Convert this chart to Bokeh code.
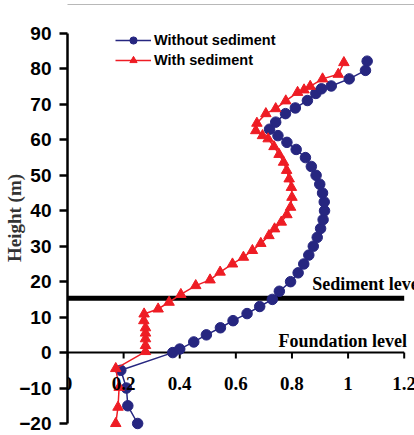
from bokeh.plotting import figure
from bokeh.models import (Range1d, FixedTicker, Legend, LegendItem,
                          BoxAnnotation, ColumnDataSource, LabelSet)
from bokeh.core.properties import value
from bokeh.embed import file_html
from bokeh.resources import INLINE

# Height profiles (m) and the normalised response at each height
height_without = [-20, -15, -10, -5, 0, 1, 3, 5, 7, 9, 11, 13, 15, 17.3,
                  20.0, 22.5, 25.0, 27.5, 30.0, 32.5, 35.0, 37.5, 40.0, 42.5,
                  45.0, 47.5, 50.0, 52.5, 55.0, 57.3, 59.3, 61.2, 63.0,
                  65.0, 67.4, 69.0, 71.1, 73.1, 74.4, 75.2, 77.2, 79.6, 82.2]
value_without = [0.25, 0.215, 0.21, 0.19, 0.375, 0.40, 0.45, 0.495, 0.545,
                 0.59, 0.64, 0.685, 0.73, 0.755,
                 0.795, 0.822, 0.842, 0.86, 0.876, 0.89, 0.902, 0.911, 0.916,
                 0.915, 0.909, 0.899, 0.886, 0.869, 0.848, 0.815, 0.782,
                 0.75, 0.72,
                 0.742, 0.777, 0.812, 0.855, 0.885, 0.905, 0.94, 1.004,
                 1.062, 1.068]

height_with = [-20, -15.4, -9.8, -4.5, 0.3, 2.0, 3.9, 5.5, 7.0, 9.0, 10.9,
               12.3, 14.2, 16.4, 18.9, 20.5, 22.7, 25.0, 26.9, 28.8, 30.8,
               33.0, 34.9, 36.8, 38.9, 41.0, 43.8, 46.6, 49.0, 51.4, 53.7,
               55.9, 58.1, 60.3, 61.2, 62.6, 64.7, 67.4, 68.8, 71.0, 73.4,
               74.1, 75.1, 77.2, 78.5, 81.8]
value_with = [0.172, 0.18, 0.184, 0.172, 0.278, 0.278, 0.278, 0.278, 0.278,
              0.272, 0.273, 0.323, 0.362, 0.404, 0.457, 0.508, 0.544, 0.588,
              0.627, 0.659, 0.689, 0.718, 0.738, 0.762, 0.782, 0.795, 0.80,
              0.798, 0.79, 0.781, 0.77, 0.754, 0.736, 0.715, 0.695, 0.671,
              0.675, 0.707, 0.742, 0.778, 0.82, 0.843, 0.865, 0.909, 0.965,
              0.985]

x_ticks = [0, 0.2, 0.4, 0.6, 0.8, 1.0, 1.2]
x_tick_labels = ["0", "0.2", "0.4", "0.6", "0.8", "1", "1.2"]
y_ticks = [-20, -10, 0, 10, 20, 30, 40, 50, 60, 70, 80, 90]

sediment_level = 15.3
level_labels = ["Sediment level", "Foundation level"]
level_label_x = [0.872, 0.752]
level_label_y = [19.3, 3.4]

BLUE = "#262680"
RED = "#EE1C24"

p = figure(width=414, height=435, output_backend="svg", toolbar_location=None,
           title=None, x_axis_location=None,
           x_range=Range1d(0, 1.2367), y_range=Range1d(-23.385, 99.31),
           min_border_left=67, min_border_right=0, min_border_top=0,
           min_border_bottom=0)
p.outline_line_color = None
p.grid.visible = False
p.background_fill_color = "white"
p.border_fill_color = "white"

# thin rule along the top of the page
p.add_layout(BoxAnnotation(left=-0.3, right=1.3, bottom=98.05, top=98.3,
                           fill_color="#b8b8b8", fill_alpha=1,
                           line_color=None))

# vertical axis (height)
ya = p.yaxis[0]
ya.bounds = (-20, 90)
ya.ticker = FixedTicker(ticks=y_ticks)
ya.minor_tick_line_color = None
ya.major_tick_in = 0
ya.major_tick_out = 8
ya.major_tick_line_width = 2.5
ya.axis_line_width = 2.5
ya.major_label_standoff = 8
ya.major_label_text_font = "Liberation Sans"
ya.major_label_text_font_style = "bold"
ya.major_label_text_font_size = "19px"
ya.major_label_text_color = "black"
ya.axis_label = "Height (m)"
ya.axis_label_text_font = "Liberation Serif"
ya.axis_label_text_font_style = "bold"
ya.axis_label_text_font_size = "19px"
ya.axis_label_text_color = "#333333"
ya.axis_label_standoff = -9

# horizontal axis drawn along the foundation level (height 0)
p.line(x=[x_ticks[0], x_ticks[-1]], y=[0, 0], line_color="black",
       line_width=2)
p.ray(x=x_ticks, y=[0] * len(x_ticks), length=6, length_units="screen",
      angle=-1.5708, line_color="black", line_width=2)
tick_src = ColumnDataSource(dict(x=x_ticks, y=[0] * len(x_ticks),
                                 t=x_tick_labels))
p.add_layout(LabelSet(x="x", y="y", text="t", source=tick_src, y_offset=-31,
                      text_align="center", text_baseline="middle",
                      text_font="Liberation Sans", text_font_style="bold",
                      text_font_size="19px", text_color="black"))

# sediment level
p.line(x=[x_ticks[0], x_ticks[-1]], y=[sediment_level, sediment_level],
       line_color="black", line_width=5, line_cap="butt")

p.text(x=level_label_x, y=level_label_y, text=level_labels,
       text_align="left", text_baseline="middle",
       text_font=value("Liberation Serif"), text_font_style="bold",
       text_font_size="18px", text_color="black")

src_wo = ColumnDataSource(dict(v=value_without, h=height_without))
src_w = ColumnDataSource(dict(v=value_with, h=height_with))

l1 = p.line("v", "h", source=src_wo, line_color=BLUE, line_width=1.5)
m1 = p.scatter("v", "h", source=src_wo, marker="circle", size=10.5,
               fill_color=BLUE, line_color=BLUE)
l2 = p.line("v", "h", source=src_w, line_color=RED, line_width=1.5)
m2 = p.scatter("v", "h", source=src_w, marker="triangle", size=10.5,
               fill_color=RED, line_color=RED)

legend = Legend(items=[LegendItem(label="Without sediment", renderers=[l1, m1]),
                       LegendItem(label="With sediment", renderers=[l2, m2])],
                location=(48, 366))
legend.border_line_color = None
legend.background_fill_alpha = 0
legend.padding = 0
legend.margin = 0
legend.spacing = 2
legend.glyph_width = 36
legend.glyph_height = 18
legend.label_height = 18
legend.label_standoff = 3
legend.label_text_font = "Liberation Sans"
legend.label_text_font_style = "bold"
legend.label_text_font_size = "14.5px"
legend.label_text_color = "black"
p.add_layout(legend)

open("out.html", "w").write(file_html(p, INLINE))
